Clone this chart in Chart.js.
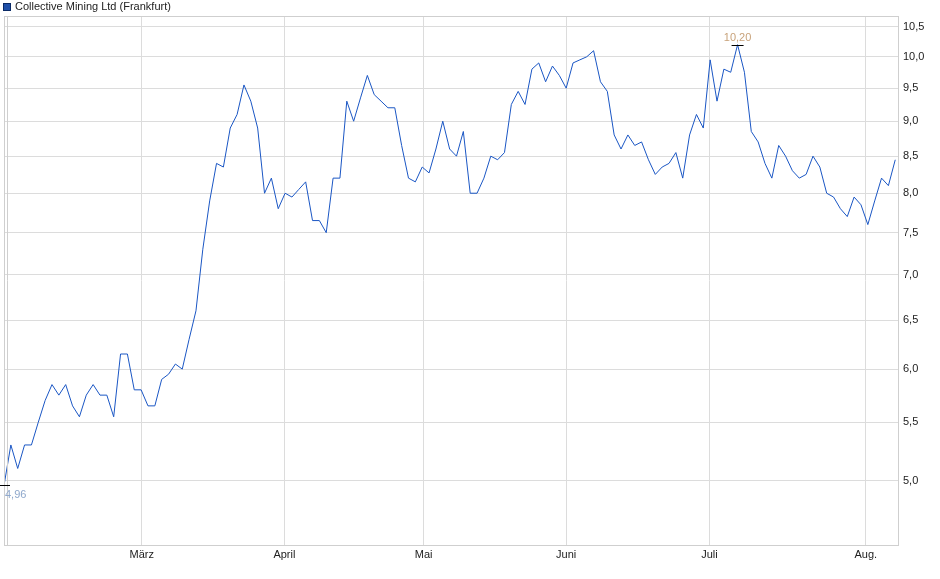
<!DOCTYPE html>
<html><head><meta charset="utf-8">
<script src="https://cdn.jsdelivr.net/npm/chart.js@4"></script>
<style>html,body{margin:0;padding:0;background:#fff}#w{position:relative;width:940px;height:579px}</style>
</head><body><div id="w"><canvas id="c" width="940" height="579"></canvas></div>
<script>
const seriesName = "Collective Mining Ltd (Frankfurt)";
const prices = [4.96,5.3,5.1,5.3,5.3,5.5,5.7,5.85,5.75,5.85,5.65,5.55,5.75,5.85,5.75,5.75,5.55,6.15,6.15,5.8,5.8,5.65,5.65,5.9,5.95,6.05,6.0,6.3,6.6,7.3,7.9,8.4,8.35,8.9,9.1,9.55,9.3,8.9,8.0,8.2,7.8,8.0,7.95,
8.05,8.15,7.65,7.65,7.5,8.2,8.2,9.3,9.0,9.35,9.7,9.4,9.3,9.2,9.2,8.65,8.2,8.15,8.35,8.27,8.6,9.0,8.6,8.5,8.85,8.0,8.0,8.2,8.5,8.45,8.55,9.25,9.45,9.25,9.8,9.9,9.6,9.85,9.7,9.5,9.9,9.95,10.0,10.1,9.6,9.45,8.8,8.6,8.8,8.65,8.7,8.45,8.25,8.35,8.4,8.55,8.2,8.8,9.1,8.9,9.95,9.3,9.8,9.75,10.2,9.75,8.85,8.7,8.4,8.2,8.65,8.5,8.3,8.2,8.25,8.5,8.35,8.0,7.95,7.8,7.7,7.95,7.85,7.6,7.9,8.2,8.1,8.45];
const monthLabels = ["März","April","Mai","Juni","Juli","Aug."];
const monthIdx = [20.1,40.9,61.2,82.0,102.9,125.7];
const yTicks = [5.0,5.5,6.0,6.5,7.0,7.5,8.0,8.5,9.0,9.5,10.0,10.5];
const minLabel = "4,96", maxLabel = "10,20";

const pts = prices.map((v,i)=>({x:i,y:v}));
const FONT = "'Liberation Sans', Arial, sans-serif";
let minI=0,maxI=0;prices.forEach((v,i)=>{if(v<prices[minI])minI=i;if(v>prices[maxI])maxI=i;});

const extras = {id:'extras', afterDraw(ch){
  const c=ch.ctx, xs=ch.scales.x, ys=ch.scales.y, a=ch.chartArea;
  c.save();
  c.fillStyle='#1f4fa8';c.fillRect(3,3,8,8);c.strokeStyle='#0a2a66';c.lineWidth=1;c.strokeRect(3.5,3.5,7,7);
  c.fillStyle='#222';c.font='11px '+FONT;c.textBaseline='middle';c.fillText(seriesName,15,7);
  c.strokeStyle='#cfcfcf';c.strokeRect(a.left+0.5,a.top+0.5,a.right-a.left,a.bottom-a.top);
  c.beginPath();c.moveTo(a.left+3.5,a.top);c.lineTo(a.left+3.5,a.bottom);c.stroke();
  c.strokeStyle='#000';c.lineWidth=1;
  let x=xs.getPixelForValue(maxI),y=ys.getPixelForValue(prices[maxI]);
  c.beginPath();c.moveTo(x-6,Math.round(y)+0.5);c.lineTo(x+6,Math.round(y)+0.5);c.stroke();
  c.fillStyle='#c8a27a';c.textAlign='center';c.textBaseline='bottom';c.fillText(maxLabel,x,y-1);
  x=xs.getPixelForValue(minI);y=ys.getPixelForValue(prices[minI]);
  c.beginPath();c.moveTo(x-4,Math.round(y)+0.5);c.lineTo(x+6,Math.round(y)+0.5);c.stroke();
  c.fillStyle='#8fa8cc';c.textAlign='left';c.textBaseline='top';c.fillText(minLabel,x+1,y+4);
  c.restore();
}};

new Chart(document.getElementById('c'),{
  type:'line',
  data:{datasets:[{data:pts,borderColor:'#1a56c4',borderWidth:1,pointRadius:0,tension:0,fill:false}]},
  options:{responsive:false,animation:false,
    layout:{padding:{top:16,left:4,right:0,bottom:0}},
    plugins:{legend:{display:false},tooltip:{enabled:false}},
    scales:{
      x:{type:'linear',min:0,max:130.4,
        afterBuildTicks(s){s.ticks=monthIdx.map(v=>({value:v}));},
        afterFit(s){s.height=34;},
        grid:{color:'#dcdcdc',drawTicks:false},border:{display:false},
        ticks:{color:'#222',font:{size:11,family:FONT},padding:3,maxRotation:0,autoSkip:false,
          callback(v,i){return monthLabels[i];}}},
      y:{type:'logarithmic',position:'right',min:4.51,max:10.69,
        afterBuildTicks(s){s.ticks=yTicks.map(v=>({value:v}));},
        afterFit(s){s.width=42;},
        grid:{color:'#dcdcdc',drawTicks:false},border:{display:false},
        ticks:{color:'#222',font:{size:11,family:FONT},padding:5,
          callback(v){return v.toFixed(1).replace('.',',');}}}
    }},
  plugins:[extras]
});
</script></body></html>
